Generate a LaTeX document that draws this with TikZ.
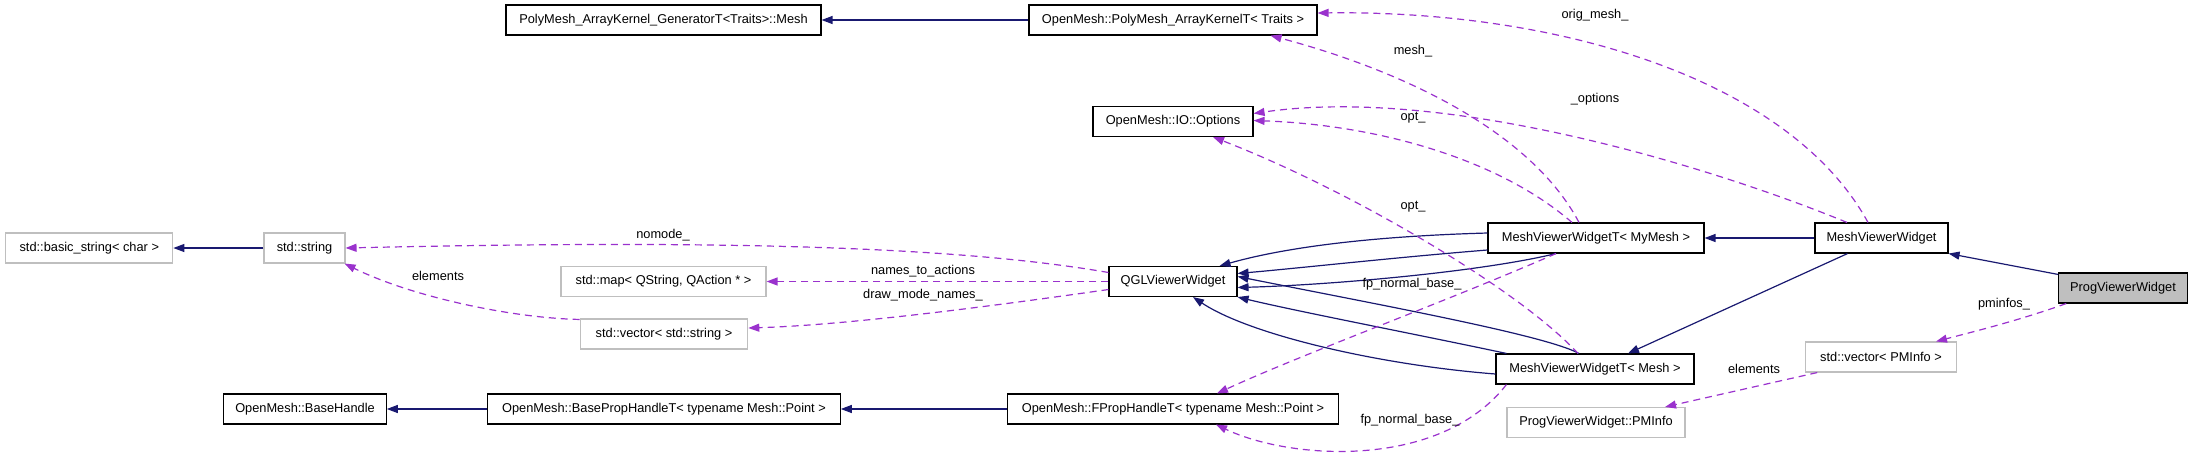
\documentclass[tikz,border=0pt]{standalone}
\usepackage{fontspec}
\setmainfont{Liberation Sans}
\usetikzlibrary{arrows.meta,calc}
\definecolor{inhcol}{HTML}{191970}
\definecolor{usecol}{HTML}{9A32CD}
\definecolor{undoc}{HTML}{BFBFBF}
\begin{document}
\begin{tikzpicture}[x=1pt,y=-1pt,
  font=\fontsize{12.8}{15}\selectfont,
  box/.style={draw, line width=1.1pt, minimum height=30pt, inner sep=0pt, anchor=center},
  docbox/.style={box, draw=black},
  undocbox/.style={box, draw=undoc},
  curbox/.style={box, draw=black, fill=undoc},
  inh/.style={draw=inhcol, line width=1.2pt, -{Triangle[length=11pt,width=8pt]}},
  use/.style={draw=usecol, line width=1.2pt, dash pattern=on 7pt off 5pt, -{Triangle[length=11pt,width=8pt]}},
  lab/.style={inner sep=0pt}]
\useasboundingbox (0,0) rectangle (2192,459);

% nodes
\node[docbox, minimum width=315pt] (gen) at (663.5,20) {PolyMesh\_ArrayKernel\_GeneratorT<Traits>::Mesh};
\node[docbox, minimum width=288pt] (kernel) at (1173,20) {OpenMesh::PolyMesh\_ArrayKernelT< Traits >};
\node[docbox, minimum width=160pt] (options) at (1173,121.5) {OpenMesh::IO::Options};
\node[undocbox, minimum width=167pt] (basicstr) at (89.3,248) {std::basic\_string< char >};
\node[undocbox, minimum width=81pt] (string) at (304.5,248) {std::string};
\node[undocbox, minimum width=205pt] (map) at (663.5,281.5) {std::map< QString, QAction * >};
\node[docbox, minimum width=128pt] (qgl) at (1173,281.5) {QGLViewerWidget};
\node[undocbox, minimum width=167.5pt] (vecstr) at (664,334) {std::vector< std::string >};
\node[docbox, minimum width=162.5pt] (basehandle) at (305,409) {OpenMesh::BaseHandle};
\node[docbox, minimum width=352.5pt] (baseprop) at (664,409) {OpenMesh::BasePropHandleT< typename Mesh::Point >};
\node[docbox, minimum width=331pt] (fprop) at (1173,409) {OpenMesh::FPropHandleT< typename Mesh::Point >};
\node[docbox, minimum width=216pt] (mvwmy) at (1596,238) {MeshViewerWidgetT< MyMesh >};
\node[docbox, minimum width=133pt] (mvw) at (1881.5,238) {MeshViewerWidget};
\node[curbox, minimum width=128.5pt] (prog) at (2123,288) {ProgViewerWidget};
\node[docbox, minimum width=198pt] (mvwmesh) at (1595,369) {MeshViewerWidgetT< Mesh >};
\node[undocbox, minimum width=150.5pt] (vecpm) at (1881,357) {std::vector< PMInfo >};
\node[undocbox, minimum width=178pt] (pminfo) at (1596,422.5) {ProgViewerWidget::PMInfo};

% inheritance
\draw[inh] (kernel.west) -- (gen.east);
\draw[inh] (string.west) -- (basicstr.east);
\draw[inh] (baseprop.west) -- (basehandle.east);
\draw[inh] (fprop.west) -- (baseprop.east);
\draw[inh] (mvw.west) -- (mvwmy.east);
\draw[inh] ($(prog.north west)+(0,2)$) -- (mvw.south east);
\draw[inh] ($(mvw.south)+(-34,0)$) -- ($(mvwmesh.north)+(33,0)$);
\draw[inh] ($(mvwmy.west)+(0,-5)$) .. controls (1380,236) and (1290,246) .. ($(qgl.north east)+(-18,0)$);
\draw[inh] ($(mvwmy.west)+(0,12)$) .. controls (1400,257) and (1300,268) .. ($(qgl.east)+(0,-8)$);
\draw[inh] ($(mvwmy.south)+(-40,0)$) .. controls (1480,272) and (1330,285) .. ($(qgl.east)+(0,6)$);
\draw[inh] ($(mvwmesh.north)+(-16,0)$) .. controls (1545,335) and (1380,305) .. ($(qgl.east)+(0,-5)$);
\draw[inh] ($(mvwmesh.north west)+(11,0)$) .. controls (1420,335) and (1300,312) .. (qgl.south east);
\draw[inh] ($(mvwmesh.west)+(0,5)$) .. controls (1380,365) and (1250,335) .. ($(qgl.south)+(20,0)$);

% usage
\draw[use] ($(mvw.north)+(-13.5,0)$) .. controls (1790,80) and (1560,10) .. ($(kernel.east)+(0,-7)$);
\draw[use] ($(mvw.north)+(-34.5,0)$) .. controls (1720,170) and (1450,85) .. ($(options.east)+(0,-8)$);
\draw[use] ($(mvwmy.north)+(-17,0)$) .. controls (1530,130) and (1400,70) .. ($(kernel.south east)+(-47,0)$);
\draw[use] ($(mvwmy.north)+(-24,0)$) .. controls (1500,160) and (1380,125) .. ($(options.east)+(0,-1)$);
\draw[use] ($(mvwmesh.north)+(-17,0)$) .. controls (1520,290) and (1350,190) .. ($(options.south)+(40,0)$);
\draw[use] ($(mvwmy.south)+(-40,0)$) .. controls (1450,300) and (1300,355) .. ($(fprop.north)+(44,0)$);
\draw[use] ($(mvwmesh.south west)+(11,0)$) .. controls (1440,470) and (1290,460) .. ($(fprop.south)+(43,0)$);
\draw[use] ($(qgl.west)+(0,-9)$) .. controls (950,245) and (700,240) .. (string.east);
\draw[use] (qgl.west) -- (map.east);
\draw[use] ($(qgl.west)+(0,8)$) .. controls (1000,305) and (850,325) .. ($(vecstr.east)+(0,-6)$);
\draw[use] ($(vecstr.north west)+(0,1)$) .. controls (510,318) and (410,296) .. ($(string.south east)+(-1,0)$);
\draw[use] ($(prog.south west)+(8,0)$) .. controls (2020,320) and (1980,330) .. ($(vecpm.north)+(55,0)$);
\draw[use] ($(vecpm.south west)+(12,0)$) -- ($(pminfo.north)+(69,0)$);

% labels
\node[lab] (l1) at (1595,15) {orig\_mesh\_};
\node[lab] (l2) at (1595,99) {\_options};
\node[lab] (l3) at (1413,51) {mesh\_};
\node[lab] (l4) at (1413,118) {opt\_};
\node[lab] (l5) at (1413,207) {opt\_};
\node[lab] (l6) at (1412,284) {fp\_normal\_base\_};
\node[lab] (l7) at (1410,420) {fp\_normal\_base\_};
\node[lab] (l8) at (663,235) {nomode\_};
\node[lab] (l9) at (923,271) {names\_to\_actions};
\node[lab] (l10) at (923,295) {draw\_mode\_names\_};
\node[lab] (l11) at (438,276) {elements};
\node[lab] (l12) at (2004,304) {pminfos\_};
\node[lab] (l13) at (1754,369) {elements};
\end{tikzpicture}
\end{document}
